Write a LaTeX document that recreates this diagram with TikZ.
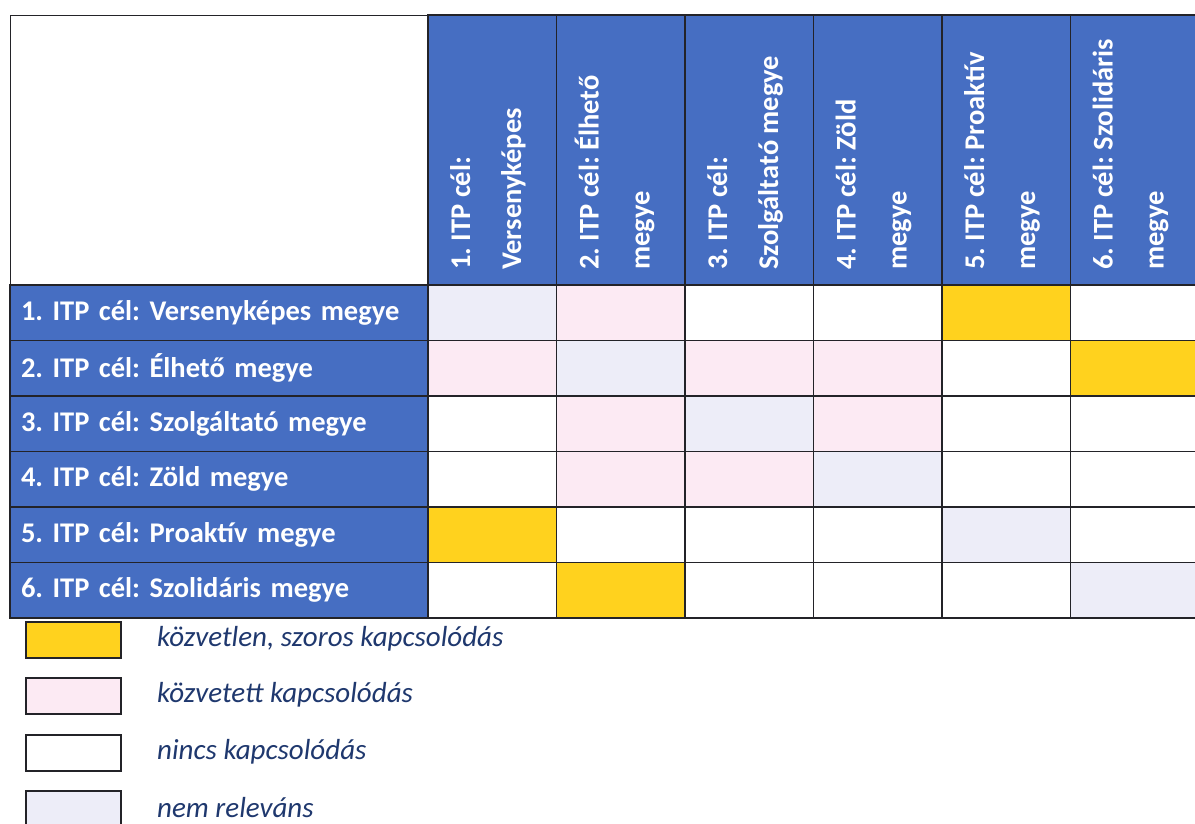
\documentclass[tikz,border=0pt]{standalone}
\usepackage{fontspec}
\setmainfont{Carlito}
\frenchspacing
\definecolor{hblue}{RGB}{70,110,194}
\definecolor{cyel}{RGB}{255,210,30}
\definecolor{cpink}{RGB}{252,234,243}
\definecolor{clav}{RGB}{237,237,248}
\definecolor{navy}{RGB}{31,56,110}
\definecolor{gridc}{RGB}{35,35,40}
\begin{document}
\begin{tikzpicture}[x=1pt,y=-1pt,
  cellbox/.style={draw=gridc, line width=1.4pt, minimum width=128.5pt, minimum height=55.5pt, inner sep=0pt, outer sep=0pt, anchor=north west},
  rowhead/.style={draw=gridc, line width=1.4pt, fill=hblue, text=white, font=\bfseries\fontsize{28.5}{32}\selectfont, text width=396pt, inner xsep=11pt, inner ysep=0pt, minimum height=55.5pt, align=left, anchor=north west, outer sep=0pt},
  colhead/.style={draw=gridc, line width=1.4pt, fill=hblue, minimum width=128.5pt, minimum height=270pt, inner sep=0pt, outer sep=0pt, anchor=north west},
  coltext/.style={text=white, font=\bfseries\fontsize{28.5}{32}\selectfont, rotate=90, anchor=base west, inner sep=0pt},
  legbox/.style={draw=gridc, line width=1.6pt, minimum width=95pt, minimum height=36pt, inner sep=0pt, anchor=north west},
  legtext/.style={text=navy, font=\itshape\fontsize{29}{33}\selectfont, anchor=west, inner sep=0pt}
]
\useasboundingbox (0,0) rectangle (1195,824);
\clip (0,0) rectangle (1195,824);
\fill[white] (0,0) rectangle (1195,824);
% corner white box
\node[draw=gridc, line width=1.4pt, fill=white, minimum width=418pt, minimum height=270pt, inner sep=0pt, anchor=north west] (corner) at (10,15) {};
% column headers
\foreach \i/\a/\b in {1/{1. ITP cél:}/{Versenyképes},2/{2. ITP cél: Élhető}/{megye},3/{3. ITP cél:}/{Szolgáltató megye},4/{4. ITP cél: Zöld}/{megye},5/{5. ITP cél: Proaktív}/{megye},6/{6. ITP cél: Szolidáris}/{megye}}{
  \pgfmathsetmacro{\xl}{428+128.5*(\i-1)}
  \node[colhead] (ch\i) at (\xl,15) {};
  \node[coltext] (cha\i) at (\xl+42,270) {\a};
  \node[coltext] (chb\i) at (\xl+93,270) {\b};
}
% row headers
\foreach \i/\t in {1/{1. ITP cél: Versenyképes megye},2/{2. ITP cél: Élhető megye},3/{3. ITP cél: Szolgáltató megye},4/{4. ITP cél: Zöld megye},5/{5. ITP cél: Proaktív megye},6/{6. ITP cél: Szolidáris megye}}{
  \pgfmathsetmacro{\yt}{285+55.5*(\i-1)}
  \node[rowhead] (rh\i) at (10,\yt) {\t};
}
% cells
\foreach \r/\row in {1/{clav,cpink,white,white,cyel,white},
                     2/{cpink,clav,cpink,cpink,white,cyel},
                     3/{white,cpink,clav,cpink,white,white},
                     4/{white,cpink,cpink,clav,white,white},
                     5/{cyel,white,white,white,clav,white},
                     6/{white,cyel,white,white,white,clav}}{
  \foreach \col [count=\c] in \row {
    \pgfmathsetmacro{\xl}{428+128.5*(\c-1)}
    \pgfmathsetmacro{\yt}{285+55.5*(\r-1)}
    \node[cellbox, fill=\col] (c\r-\c) at (\xl,\yt) {};
  }
}
% legend
\node[legbox, fill=cyel] (lg1) at (25,621) {};
\node[legbox, fill=cpink] (lg2) at (25,677) {};
\node[legbox, fill=white] (lg3) at (25,734) {};
\node[legbox, fill=clav] (lg4) at (25,790) {};
\node[legtext] (lt1) at (157,639) {közvetlen, szoros kapcsolódás};
\node[legtext] (lt2) at (157,695) {közvetett kapcsolódás};
\node[legtext] (lt3) at (157,752) {nincs kapcsolódás};
\node[legtext] (lt4) at (157,808) {nem releváns};
\end{tikzpicture}
\end{document}
